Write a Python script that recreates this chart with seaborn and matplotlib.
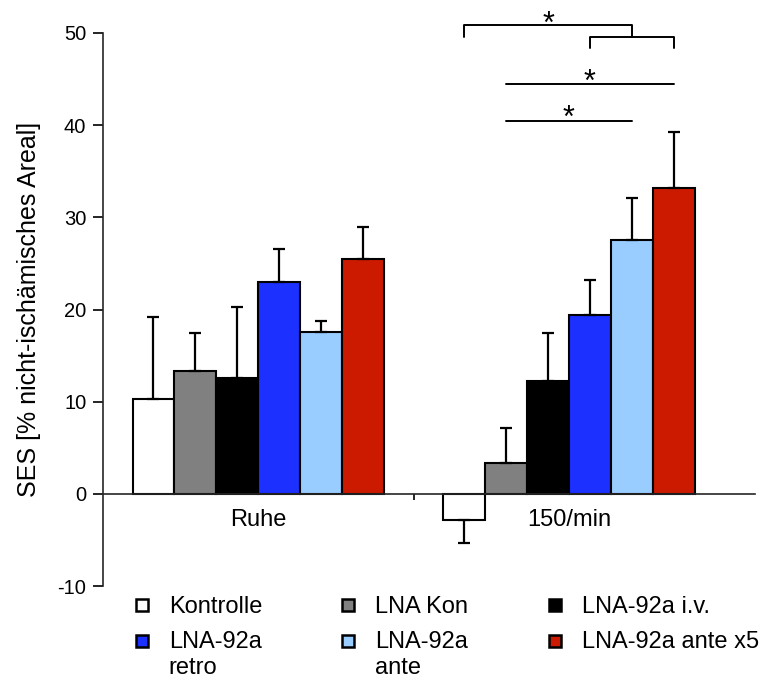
import numpy as np
import pandas as pd
import matplotlib
matplotlib.use("Agg")
import matplotlib.pyplot as plt
import seaborn as sns
from matplotlib.lines import Line2D

groups = ["Ruhe", "150/min"]
treatments = ["Kontrolle", "LNA Kon", "LNA-92a i.v.", "LNA-92a retro", "LNA-92a ante", "LNA-92a ante x5"]
legend_labels = ["Kontrolle", "LNA Kon", "LNA-92a i.v.", "LNA-92a\nretro", "LNA-92a\nante", "LNA-92a ante x5"]
colors = ["#ffffff", "#808080", "#000000", "#1c30ff", "#99ccff", "#cc1a00"]

mean_ruhe = [10.3, 13.3, 12.6, 23.0, 17.6, 25.5]
err_ruhe = [19.2, 17.4, 20.3, 26.6, 18.7, 29.0]
mean_150 = [-2.8, 3.4, 12.3, 19.4, 27.5, 33.2]
err_150 = [-5.3, 7.2, 17.4, 23.2, 32.1, 39.3]

df = pd.DataFrame({
    "Gruppe": np.repeat(groups, len(treatments)),
    "Behandlung": treatments * 2,
    "SES": mean_ruhe + mean_150,
    "Fehler": err_ruhe + err_150,
})

sns.set_style("ticks")
plt.rcParams["font.family"] = ["Liberation Sans", "DejaVu Sans"]
plt.rcParams["axes.unicode_minus"] = False
plt.rcParams["text.color"] = "black"
plt.rcParams["axes.labelcolor"] = "black"
plt.rcParams["xtick.color"] = "black"
plt.rcParams["ytick.color"] = "black"

fig = plt.figure(figsize=(7.63, 6.84), dpi=100)
ax = fig.add_axes([0.135, 0.143, 0.855, 0.809])

palette = dict(zip(treatments, colors))
sns.barplot(data=df, x="Gruppe", y="SES", hue="Behandlung", order=groups,
            hue_order=treatments, palette=palette, width=0.81, gap=0,
            edgecolor="black", linewidth=1.5, legend=False, errorbar=None,
            saturation=1, ax=ax)

# einseitige Fehlerbalken
centers = {}
for t, cont in zip(treatments, ax.containers):
    for g, bar in zip(groups, cont):
        row = df[(df["Gruppe"] == g) & (df["Behandlung"] == t)].iloc[0]
        xc = bar.get_x() + bar.get_width() / 2
        centers[(g, t)] = xc
        m, e = row["SES"], row["Fehler"]
        if m >= 0:
            yerr = [[0], [e - m]]
        else:
            yerr = [[m - e], [0]]
        ax.errorbar(xc, m, yerr=yerr, fmt="none", ecolor="black",
                    elinewidth=1.6, capsize=4.5, capthick=1.6, zorder=1)

ax.set_xlim(-0.5, 1.6)
ax.set_ylim(-10, 50)
ax.set_yticks([-10, 0, 10, 20, 30, 40, 50])
ax.set_xlabel("")
ax.set_ylabel("SES [% nicht-ischämisches Areal]", fontsize=18, labelpad=12)
ax.tick_params(axis="y", labelsize=14.5, width=1.2, length=7, direction="out", pad=5)
ax.spines["right"].set_visible(False)
ax.spines["top"].set_visible(False)
ax.spines["bottom"].set_position(("data", 0))
ax.spines["left"].set_linewidth(1.2)
ax.spines["bottom"].set_linewidth(1.2)
ax.set_xticks([0, 1])
ax.set_xticklabels(groups)
ax.set_xticks([0.5], minor=True)
ax.tick_params(axis="x", which="major", length=0, pad=11, labelsize=17)
ax.tick_params(axis="x", which="minor", length=4, width=1.2, direction="out")

# Signifikanzklammern
g = "150/min"
kx = centers[(g, "Kontrolle")]
konx = centers[(g, "LNA Kon")]
rx = centers[(g, "LNA-92a retro")]
antx = centers[(g, "LNA-92a ante")]
x5x = centers[(g, "LNA-92a ante x5")]
mid = (rx + x5x) / 2
lw = 1.4
star = dict(ha="center", va="baseline", fontsize=22)
ax.plot([rx, rx, x5x, x5x], [48.4, 49.5, 49.5, 48.4], color="black", lw=lw, clip_on=False)
ax.plot([kx, kx, mid, mid], [49.6, 50.8, 50.8, 49.5], color="black", lw=lw, clip_on=False)
ax.text((kx + mid) / 2, 50.0, "*", **star)
ax.plot([konx, x5x], [44.4, 44.4], color="black", lw=lw, clip_on=False)
ax.text((konx + x5x) / 2, 43.7, "*", **star)
ax.plot([konx, antx], [40.4, 40.4], color="black", lw=lw, clip_on=False)
ax.text((konx + antx) / 2, 39.8, "*", **star)

# Legende zeilenweise wie im Original
handles = [Line2D([], [], marker="s", linestyle="none", markersize=8,
                  markerfacecolor=c, markeredgecolor="black", markeredgewidth=1.8)
           for c in colors]
order = [0, 3, 1, 4, 2, 5]
leg = fig.legend([handles[i] for i in order], [legend_labels[i] for i in order],
                 ncol=3, loc="upper left", bbox_to_anchor=(0.170, 0.129),
                 frameon=False, fontsize=17, handletextpad=0.65, columnspacing=3.15,
                 labelspacing=0.55, handlelength=1.0, handleheight=1.1,
                 borderaxespad=0, borderpad=0)
for col in leg._legend_handle_box.get_children():
    for hp in col.get_children():
        hp.align = "top"

fig.savefig("out.png", dpi=100)
